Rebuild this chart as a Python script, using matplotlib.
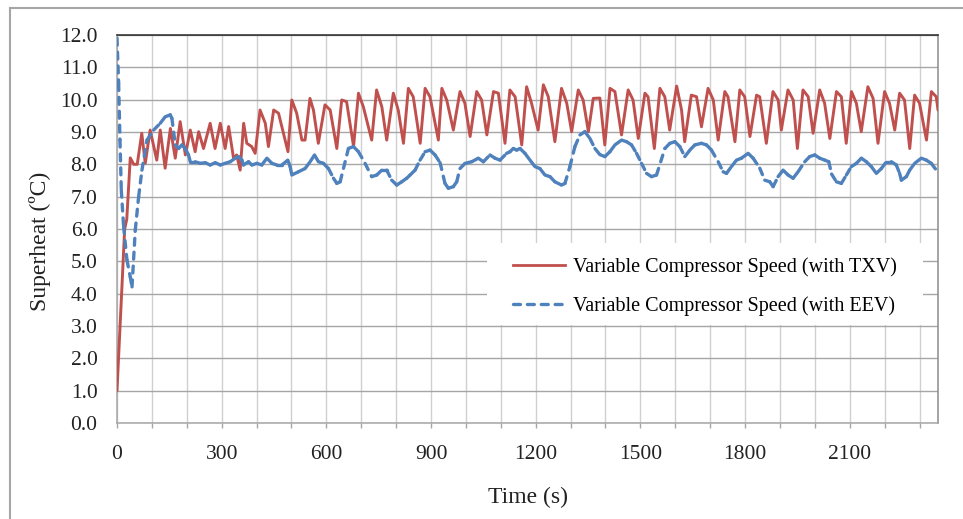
import matplotlib
matplotlib.use('Agg')
import matplotlib.pyplot as plt
from matplotlib.collections import LineCollection
from matplotlib.lines import Line2D
from matplotlib.patches import Rectangle
import numpy as np

# ---------------- data ----------------
red_time = [0, 22, 28, 38, 48, 58, 71, 81, 95, 114, 124, 138, 153, 167, 181, 196, 210, 224, 234, 248,
            267, 281, 296, 310, 320, 334, 343, 353, 363, 372, 386, 396, 410, 425, 434, 449, 463, 477,
            490, 501, 515, 530, 539, 553, 563, 577, 596, 611, 630, 644, 658, 678, 692, 706, 730, 744,
            759, 773, 792, 806, 821, 835, 849, 869, 883, 897, 921, 931, 945, 964, 983, 997, 1012, 1031,
            1045, 1060, 1079, 1093, 1112, 1126, 1141, 1160, 1174, 1188, 1207, 1222, 1236, 1255, 1274,
            1289, 1303, 1322, 1336, 1351, 1365, 1384, 1398, 1413, 1427, 1446, 1465, 1479, 1494, 1513,
            1522, 1540, 1556, 1570, 1584, 1604, 1618, 1627, 1646, 1661, 1675, 1694, 1709, 1723, 1742,
            1751, 1771, 1785, 1799, 1814, 1833, 1842, 1861, 1880, 1895, 1904, 1923, 1938, 1950, 1966,
            1981, 1995, 2014, 2028, 2043, 2062, 2076, 2090, 2105, 2119, 2133, 2152, 2167, 2181, 2200,
            2214, 2229, 2243, 2257, 2272, 2286, 2300, 2320, 2334, 2348, 2353]
red_superheat = [1.0, 6.0, 6.3, 8.2, 8.0, 8.0, 8.96, 8.03, 9.06, 8.13, 9.06, 7.88, 9.11, 8.19, 9.32, 8.29,
                 9.06, 8.39, 9.01, 8.49, 9.27, 8.49, 9.27, 8.49, 9.17, 8.19, 8.29, 7.82, 9.27, 8.65, 8.55,
                 8.34, 9.68, 9.27, 8.55, 9.68, 9.58, 8.96, 8.39, 9.99, 9.58, 8.75, 8.75, 10.04, 9.68, 8.65,
                 9.84, 9.68, 8.49, 9.99, 9.94, 8.55, 10.2, 9.78, 8.75, 10.3, 9.78, 8.75, 10.2, 9.68, 8.65,
                 10.35, 10.09, 8.65, 10.35, 10.09, 8.75, 10.35, 9.99, 9.06, 10.25, 9.89, 8.86, 10.25, 9.99,
                 8.91, 10.25, 10.2, 8.65, 10.3, 10.09, 8.6, 10.4, 9.89, 9.06, 10.46, 10.09, 8.7, 10.35,
                 9.89, 9.01, 10.3, 9.99, 9.01, 10.04, 10.05, 8.6, 10.35, 10.25, 8.91, 10.3, 9.99, 8.8,
                 10.2, 10.09, 8.49, 10.35, 10.09, 9.06, 10.42, 9.68, 8.7, 10.14, 10.09, 9.16, 10.35, 9.99,
                 8.75, 10.25, 10.09, 8.7, 10.3, 10.09, 8.86, 10.14, 10.09, 8.65, 10.25, 9.99, 9.06, 10.3,
                 9.99, 8.49, 10.3, 10.09, 8.96, 10.3, 9.89, 8.8, 10.25, 10.09, 8.65, 10.25, 9.89, 9.01,
                 10.4, 10.04, 8.65, 10.25, 9.89, 9.06, 10.2, 9.99, 8.49, 10.14, 9.89, 8.75, 10.25, 10.09,
                 9.68]

eev_time = [0, 4.7, 8.5, 12.3, 19, 28.5, 38, 43, 52.4, 62, 71.5, 86, 105, 124, 138, 152.6, 157.4, 167,
            176.5, 186, 195.6, 205, 210, 224, 238.5, 253, 267, 281.5, 296, 310, 324.5, 339, 348.3, 358,
            362.6, 377, 386.5, 401, 415, 429.5, 444, 458, 472.4, 489.6, 496.3, 501, 520, 539, 553.5, 566,
            577.4, 591.7, 606, 620.4, 630, 639.5, 663.3, 677.6, 692, 711, 730, 744.5, 759, 773, 787.4,
            801.7, 816, 830.4, 840, 854.2, 868.6, 883, 897.2, 911.5, 926, 940, 949.7, 964, 973.6, 983,
            997.4, 1016.5, 1035.6, 1050, 1069, 1083.3, 1097.6, 1116.7, 1126.3, 1135.8, 1145.4, 1155,
            1169.2, 1183.6, 1197.9, 1212, 1226.5, 1240.8, 1255, 1274, 1283.8, 1298, 1312.4, 1326.8, 1341,
            1355.4, 1369.7, 1384, 1398.3, 1412.7, 1427, 1446, 1460.4, 1474.7, 1489, 1503.3, 1517.7, 1532,
            1546.3, 1570.2, 1584.5, 1598.8, 1613, 1627.4, 1641.8, 1656, 1675, 1689.5, 1703.8, 1723,
            1737.2, 1746.8, 1761, 1775.4, 1789.7, 1808.8, 1823.2, 1842.2, 1856.5, 1870.9, 1880.4, 1894.7,
            1909, 1923.4, 1937.7, 1952, 1971, 1985.4, 1999.7, 2014, 2028.4, 2040, 2048, 2061.8, 2076,
            2090.4, 2104.7, 2119, 2133.4, 2147.7, 2162, 2176.3, 2190.6, 2205, 2219.3, 2233.6, 2243, 2248,
            2262.3, 2271.8, 2286.1, 2305.2, 2319.5, 2333.8, 2348.2]
eev_superheat = [11.9, 10.5, 8.75, 7.2, 6.07, 5.04, 4.52, 4.21, 5.97, 7.0, 7.82, 8.75, 9.06, 9.27, 9.47,
                 9.53, 9.42, 8.6, 8.49, 8.6, 8.49, 8.29, 8.08, 8.08, 8.03, 8.05, 7.98, 8.05, 7.98, 8.03,
                 8.08, 8.19, 8.24, 8.13, 7.98, 8.08, 7.98, 8.03, 7.98, 8.19, 8.03, 7.98, 7.98, 8.13, 7.93,
                 7.67, 7.77, 7.87, 8.08, 8.29, 8.08, 8.03, 7.87, 7.57, 7.41, 7.46, 8.49, 8.55, 8.39, 8.03,
                 7.62, 7.67, 7.82, 7.82, 7.51, 7.36, 7.46, 7.57, 7.67, 7.82, 8.13, 8.39, 8.44, 8.29, 8.05,
                 7.41, 7.26, 7.31, 7.46, 7.87, 8.03, 8.08, 8.19, 8.08, 8.29, 8.19, 8.13, 8.34, 8.39, 8.49,
                 8.44, 8.49, 8.34, 8.13, 7.93, 7.87, 7.67, 7.62, 7.46, 7.36, 7.41, 7.93, 8.55, 8.91, 9.01,
                 8.8, 8.49, 8.3, 8.24, 8.39, 8.6, 8.75, 8.7, 8.6, 8.34, 8.03, 7.72, 7.62, 7.67, 8.49, 8.65,
                 8.7, 8.55, 8.24, 8.44, 8.6, 8.65, 8.6, 8.44, 8.08, 7.77, 7.72, 7.93, 8.13, 8.19, 8.34,
                 8.19, 7.88, 7.51, 7.46, 7.31, 7.62, 7.82, 7.67, 7.57, 7.77, 8.08, 8.24, 8.29, 8.19, 8.13,
                 8.08, 7.70, 7.46, 7.41, 7.67, 7.93, 8.03, 8.19, 8.08, 7.93, 7.72, 7.87, 8.08, 8.08, 7.98,
                 7.72, 7.51, 7.62, 7.82, 8.03, 8.19, 8.13, 8.03, 7.82]

series_labels = ['Variable Compressor Speed (with TXV)', 'Variable Compressor Speed (with EEV)']
x_major_ticks = [0, 300, 600, 900, 1200, 1500, 1800, 2100]
x_tick_labels = ['0', '300', '600', '900', '1200', '1500', '1800', '2100']
y_ticks = [0.0, 1.0, 2.0, 3.0, 4.0, 5.0, 6.0, 7.0, 8.0, 9.0, 10.0, 11.0, 12.0]
y_tick_labels = ['0.0', '1.0', '2.0', '3.0', '4.0', '5.0', '6.0', '7.0', '8.0', '9.0', '10.0', '11.0', '12.0']
x_label = 'Time (s)'
y_label = 'Superheat (ºC)'

# ---------------- style ----------------
plt.rcParams['font.family'] = ['Liberation Serif', 'DejaVu Serif']
plt.rcParams['lines.scale_dashes'] = False

RED = '#C0504D'
BLUE = '#4F81BD'

W, H = 963, 519
fig = plt.figure(figsize=(W / 100, H / 100), dpi=100)
ax = fig.add_axes([117 / W, 96 / H, 821 / W, 388 / H])

# outer chart frame (left and top visible)
fig.add_artist(Line2D([10 / W, 10 / W], [0, 1 - 8 / H], transform=fig.transFigure,
                      color='#a6a6a6', lw=1.5))
fig.add_artist(Line2D([10 / W, 1], [1 - 8 / H, 1 - 8 / H], transform=fig.transFigure,
                      color='#a6a6a6', lw=1.5))

# red TXV line
ax.plot(red_time, red_superheat, color=RED, lw=2.1, solid_joinstyle='round',
        solid_capstyle='round', zorder=3)

# blue EEV line: dash pattern restarts at every segment (like the source chart)
pts = np.column_stack([np.asarray(eev_time, float), np.asarray(eev_superheat, float)])
segs = np.stack([pts[:-1], pts[1:]], axis=1)
lc = LineCollection(segs, colors=BLUE, linewidths=2.4, linestyles=[(0, (5.0, 5.0))],
                    capstyle='round', zorder=3)
ax.add_collection(lc)

ax.set_xlim(0, 2353)
ax.set_ylim(0, 12)

ax.set_xticks(x_major_ticks)
ax.set_xticklabels(x_tick_labels)
ax.set_xticks(np.arange(0, 2353, 100), minor=True)
ax.set_yticks(y_ticks)
ax.set_yticklabels(y_tick_labels)

ax.set_axisbelow(True)
ax.grid(axis='x', which='both', color='#d0d0d0', lw=1.0)
ax.grid(axis='y', which='major', color='#a6a6a6', lw=1.0)

for s, c in [('top', '#262626'), ('right', '#8c8c8c'), ('left', '#a6a6a6'), ('bottom', '#a6a6a6')]:
    ax.spines[s].set_color(c)
    ax.spines[s].set_linewidth(1.1)

ax.tick_params(axis='x', which='both', direction='out', length=3.6, color='#a6a6a6',
               width=1.0, pad=12, labelsize=15.5, labelcolor='#222222')
ax.tick_params(axis='y', which='both', length=0, pad=14, labelsize=15.5, labelcolor='#222222')

ax.set_xlabel(x_label, fontsize=17, color='#222222')
ax.xaxis.set_label_coords(0.5, -0.193)
ax.xaxis.label.set_va('center')
ax.set_ylabel(y_label, fontsize=17, color='#222222')
ax.yaxis.set_label_coords(-0.0938, 0.469)
ax.yaxis.label.set_va('center')

# legend: white box covering the grid, then the entries
ax.add_patch(Rectangle((0.4507, 0.2526), 0.531, 0.211, transform=ax.transAxes,
                       facecolor='white', edgecolor='none', zorder=2))
handles = [Line2D([], [], color=RED, lw=2.0),
           Line2D([], [], color=BLUE, lw=2.4, dashes=(5.0, 5.0), dash_capstyle='round')]
leg = ax.legend(handles, series_labels, loc='center', bbox_to_anchor=(0.7162, 0.3505),
                frameon=False, fontsize=14.5, handlelength=2.6, handletextpad=0.4,
                labelspacing=0.95, borderpad=0.0)
leg.set_zorder(5)

fig.savefig('out.png', dpi=100)
